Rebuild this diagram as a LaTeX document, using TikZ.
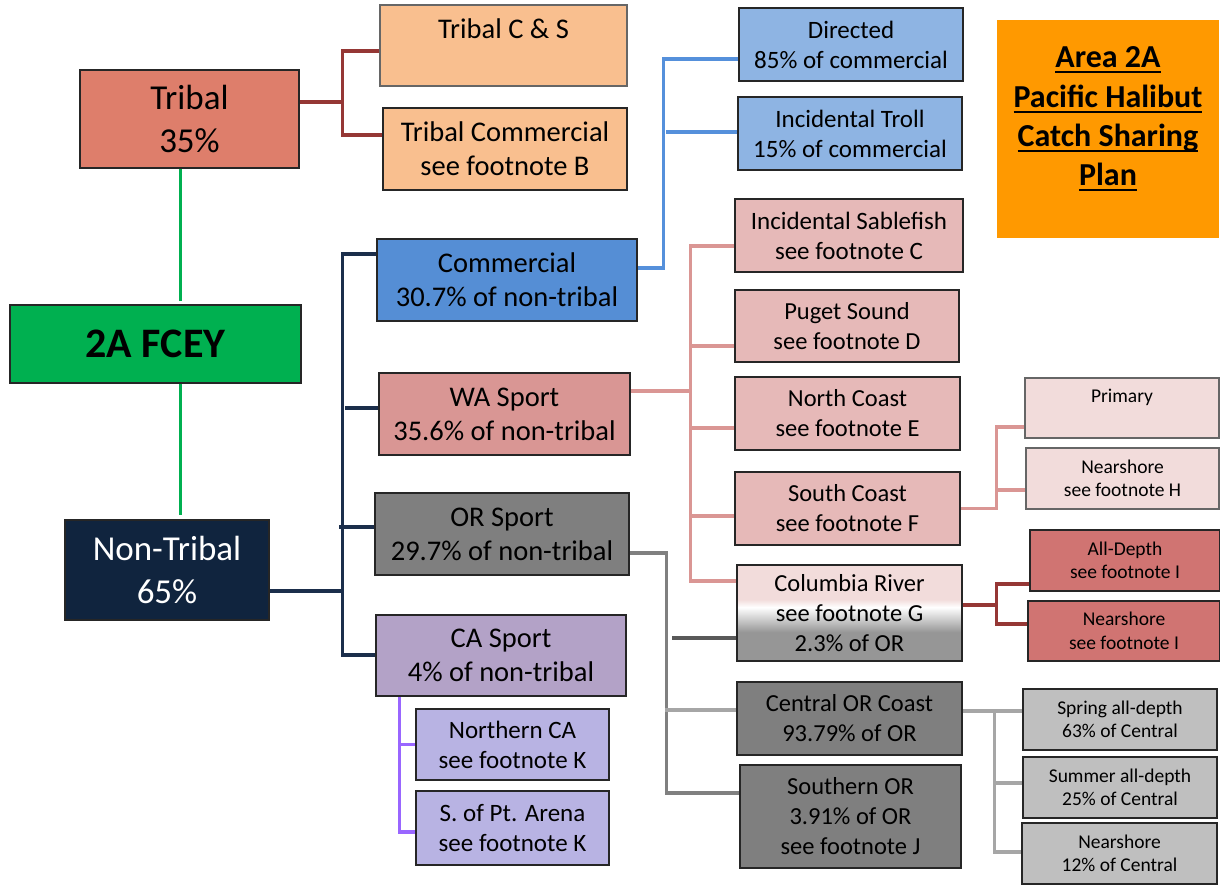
\documentclass[tikz,border=0pt]{standalone}
\usepackage{fontspec}
\setmainfont{Carlito}
\usetikzlibrary{calc}
\definecolor{cTribal}{HTML}{DE7E6B}
\definecolor{cPeach}{HTML}{F9BF8F}
\definecolor{cBlueL}{HTML}{8EB4E3}
\definecolor{cOrange}{HTML}{FF9900}
\definecolor{cPink}{HTML}{E6B9B8}
\definecolor{cPinkL}{HTML}{F2DCDB}
\definecolor{cRedM}{HTML}{D07472}
\definecolor{cBlue}{HTML}{558ED5}
\definecolor{cWA}{HTML}{D99694}
\definecolor{cGrayD}{HTML}{7F7F7F}
\definecolor{cPurple}{HTML}{B3A2C7}
\definecolor{cLav}{HTML}{B8B3E3}
\definecolor{cGreen}{HTML}{00B050}
\definecolor{cNavy}{HTML}{10243E}
\definecolor{cGrayL}{HTML}{BFBFBF}
\definecolor{cGrayM}{HTML}{969696}
\definecolor{lRed}{HTML}{953735}
\definecolor{lNavy}{HTML}{1B2E4B}
\definecolor{lBlue}{HTML}{5590DB}
\definecolor{lPink}{HTML}{DA9694}
\definecolor{lGray}{HTML}{808080}
\definecolor{lGrayL}{HTML}{A6A6A6}
\definecolor{lGrayD}{HTML}{595959}
\definecolor{lPurp}{HTML}{9966FF}
\definecolor{lGreen}{HTML}{00B050}
\pgfdeclareverticalshading{colsh}{100bp}{color(0bp)=(cGrayM); color(40bp)=(cGrayM); color(53bp)=(white); color(57bp)=(cPinkL); color(100bp)=(cPinkL)}
\newcommand\myul[1]{\setbox0=\hbox{#1}\rlap{\rule[-5.5pt]{\wd0}{2pt}}\box0}
\pgfdeclarelayer{bg}
\pgfsetlayers{bg,main}
\begin{document}
\begin{tikzpicture}[x=1pt,y=-1pt,
  box/.style={draw=black!85, line width=1.3pt, inner sep=1pt, align=center, text=black},
  tA/.style={font=\fontsize{35}{43}\selectfont},
  tB/.style={font=\fontsize{28.5}{34}\selectfont},
  tC/.style={font=\fontsize{25}{30}\selectfont},
  tD/.style={font=\fontsize{24.5}{30}\selectfont},
  tE/.style={font=\fontsize{19.5}{23.5}\selectfont},
  tF/.style={font=\fontsize{25}{30}\selectfont},
  tG/.style={font=\fontsize{42}{50}\selectfont\bfseries},
  tT/.style={font=\fontsize{32}{39.3}\selectfont\bfseries},
  cn/.style={line width=3.4pt},
  gr/.style={line width=3pt, draw=lGreen}]
\useasboundingbox (0,0) rectangle (1220,884);
% boxes
\node[box, fill=cTribal, minimum width=219pt, minimum height=98pt, tA] (tribal) at (189.5,119) {Tribal\\35\%};
\node[box, fill=cPeach, draw=black!60, minimum width=247pt, minimum height=81pt, tB] (tcs) at (503.5,45.5) {Tribal C \& S\\\mbox{}};
\node[box, fill=cPeach, minimum width=244pt, minimum height=82pt, tB] (tcom) at (505,149) {Tribal Commercial\\see footnote B};
\node[box, fill=cBlueL, minimum width=224pt, minimum height=73pt, tC] (dir) at (851,44.5) {Directed\\85\% of commercial};
\node[box, fill=cBlueL, minimum width=224pt, minimum height=73pt, tC] (troll) at (850,133.5) {Incidental Troll\\15\% of commercial};
\node[fill=cOrange, minimum width=222pt, minimum height=218pt] (title) at (1108,129) {};
\node[tT, align=center, inner sep=0pt] (titletext) at (1108,119) {\myul{Area 2A}\\\myul{Pacific Halibut}\\\myul{Catch Sharing}\\\myul{Plan}};
\node[box, fill=cPink, minimum width=228pt, minimum height=73pt, tC] (sable) at (849,235.5) {Incidental Sablefish\\see footnote C};
\node[box, fill=cPink, minimum width=224pt, minimum height=72pt, tD] (puget) at (847,326) {Puget Sound\\see footnote D};
\node[box, fill=cPink, minimum width=225pt, minimum height=73pt, tD] (ncoast) at (847.5,413.5) {North Coast\\see footnote E};
\node[box, fill=cPink, minimum width=225pt, minimum height=73pt, tD] (scoast) at (847.5,508.5) {South Coast\\see footnote F};
\node[box, shading=colsh, minimum width=225pt, minimum height=96pt, tD] (colum) at (849.5,613) {Columbia River\\see footnote G\\2.3\% of OR};
\node[box, fill=cPinkL, draw=black!60, minimum width=194pt, minimum height=60pt, tE] (primary) at (1122,408) {Primary\\\mbox{}};
\node[box, fill=cPinkL, draw=black!60, minimum width=193pt, minimum height=61pt, tE] (nearH) at (1122.5,478.5) {Nearshore\\see footnote H};
\node[box, fill=cRedM, minimum width=190pt, minimum height=61pt, tE] (alld) at (1125,560.5) {All-Depth\\see footnote I};
\node[box, fill=cRedM, minimum width=192pt, minimum height=60pt, tE] (nearI) at (1124,631) {Nearshore\\see footnote I};
\node[box, fill=cBlue, minimum width=260pt, minimum height=82pt, tB] (com) at (507,280) {Commercial\\30.7\% of non-tribal};
\node[box, fill=cWA, minimum width=251pt, minimum height=82pt, tB] (wa) at (504.5,414) {WA Sport\\35.6\% of non-tribal};
\node[box, fill=cGrayD, minimum width=254pt, minimum height=82pt, tB] (ors) at (502,534) {OR Sport\\29.7\% of non-tribal};
\node[box, fill=cPurple, minimum width=250pt, minimum height=81pt, tB] (cas) at (501,655.5) {CA Sport\\4\% of non-tribal};
\node[box, fill=cLav, minimum width=193pt, minimum height=71pt, tF] (nca) at (512.5,744.5) {Northern CA\\see footnote K};
\node[box, fill=cLav, minimum width=193pt, minimum height=74pt, tF] (spa) at (512.5,828) {S. of Pt. Arena\\see footnote K};
\node[box, fill=cGreen, line width=2pt, minimum width=291pt, minimum height=78pt, tG] (fcey) at (155.5,344) {2A FCEY};
\node[box, fill=cNavy, text=white, minimum width=204pt, minimum height=100pt, tA] (ntrib) at (167,570) {Non-Tribal\\65\%};
\node[box, fill=cGrayD, minimum width=225pt, minimum height=73pt, tD] (cor) at (849.5,718.5) {Central OR Coast\\93.79\% of OR};
\node[box, fill=cGrayD, minimum width=221pt, minimum height=103pt, tD] (sor) at (850.5,816.5) {Southern OR\\3.91\% of OR\\see footnote J};
\node[box, fill=cGrayL, minimum width=194pt, minimum height=61pt, tE] (spring) at (1120,719.5) {Spring all-depth\\63\% of Central};
\node[box, fill=cGrayL, minimum width=194pt, minimum height=61pt, tE] (summer) at (1120,787.5) {Summer all-depth\\25\% of Central};
\node[box, fill=cGrayL, minimum width=195pt, minimum height=61pt, tE] (near12) at (1119.5,853.5) {Nearshore\\12\% of Central};
\coordinate (gx) at (180,0);
% connectors
\begin{pgfonlayer}{bg}
\fill[white] (0,0) rectangle (1220,884);
\draw[gr] (tribal.south -| gx) -- ($(fcey.north -| gx)+(0,-3)$);
\draw[gr] (fcey.south -| gx) -- ($(ntrib.north -| gx)+(0,-4)$);
\draw[cn, lRed] ($(tribal.east)+(0,-17)$) -- ++(44,0);
\draw[cn, lRed] ($(tcs.west)+(0,5.5)$) -- ++(-37,0) -- ++(0,84) -- ($(tcom.west)+(0,-14)$);
\draw[cn, lNavy] ($(ntrib.east)+(0,21)$) -- ++(74,0);
\draw[cn, lNavy] ($(com.west)+(0,-26)$) -- ++(-34,0) -- ++(0,401) -- ($(cas.west)+(0,-0.5)$);
\draw[cn, lNavy] ($(wa.west)+(0,-6)$) -- ++(-33,0);
\draw[cn, lNavy] ($(ors.west)+(0,-7)$) -- ++(-35,0);
\draw[cn, lBlue] ($(com.east)+(0,-12)$) -- ++(26,0) |- ($(dir.west)+(0,14.5)$);
\draw[cn, lBlue] ($(troll.west)+(0,-1.5)$) -- ++(-71,0);
\draw[cn, lPink] ($(wa.east)+(0,-23)$) -- ++(61,0);
\draw[cn, lPink] ($(sable.west)+(0,10.5)$) -- ++(-44,0) |- ($(colum.west)+(0,-32)$);
\draw[cn, lPink] ($(puget.west)+(0,20)$) -- ++(-44,0);
\draw[cn, lPink] ($(ncoast.west)+(0,14.5)$) -- ++(-44,0);
\draw[cn, lPink] ($(scoast.west)+(0,7.5)$) -- ++(-44,0);
\draw[cn, lPink] ($(primary.west)+(0,19)$) -- ++(-28,0) -- ++(0,81.5) -- (scoast.east);
\draw[cn, lPink] ($(nearH.west)+(0,11.5)$) -- ++(-29,0);
\draw[cn, lRed] ($(colum.east)+(0,-8)$) -- ++(35,0);
\draw[cn, lRed] ($(alld.west)+(0,23.5)$) -- ++(-33,0) |- ($(nearI.west)+(0,-7)$);
\draw[cn, lGray] ($(ors.east)+(0,19)$) -- ++(37,0) |- ($(sor.west)+(0,-23.5)$);
\draw[cn, lGrayD] ($(colum.west)+(0,25)$) -- ++(-64,0);
\draw[cn, lGrayL] ($(cor.west)+(0,-8.5)$) -- ++(-71,0);
\draw[cn, lGrayL] ($(cor.east)+(0,-7.5)$) -- ($(spring.west)+(0,-8.5)$);
\draw[cn, lGrayL] ($(cor.east)+(32,-7.5)$) |- ($(near12.west)+(0,-1.5)$);
\draw[cn, lGrayL] ($(summer.west)+(0,-4.5)$) -- ++(-29,0);
\draw[cn, lPurp] ($(cas.south west)+(24,0)$) |- ($(spa.west)+(0,4)$);
\draw[cn, lPurp] (nca.west) -- ++(-16,0);
\end{pgfonlayer}
\end{tikzpicture}
\end{document}
